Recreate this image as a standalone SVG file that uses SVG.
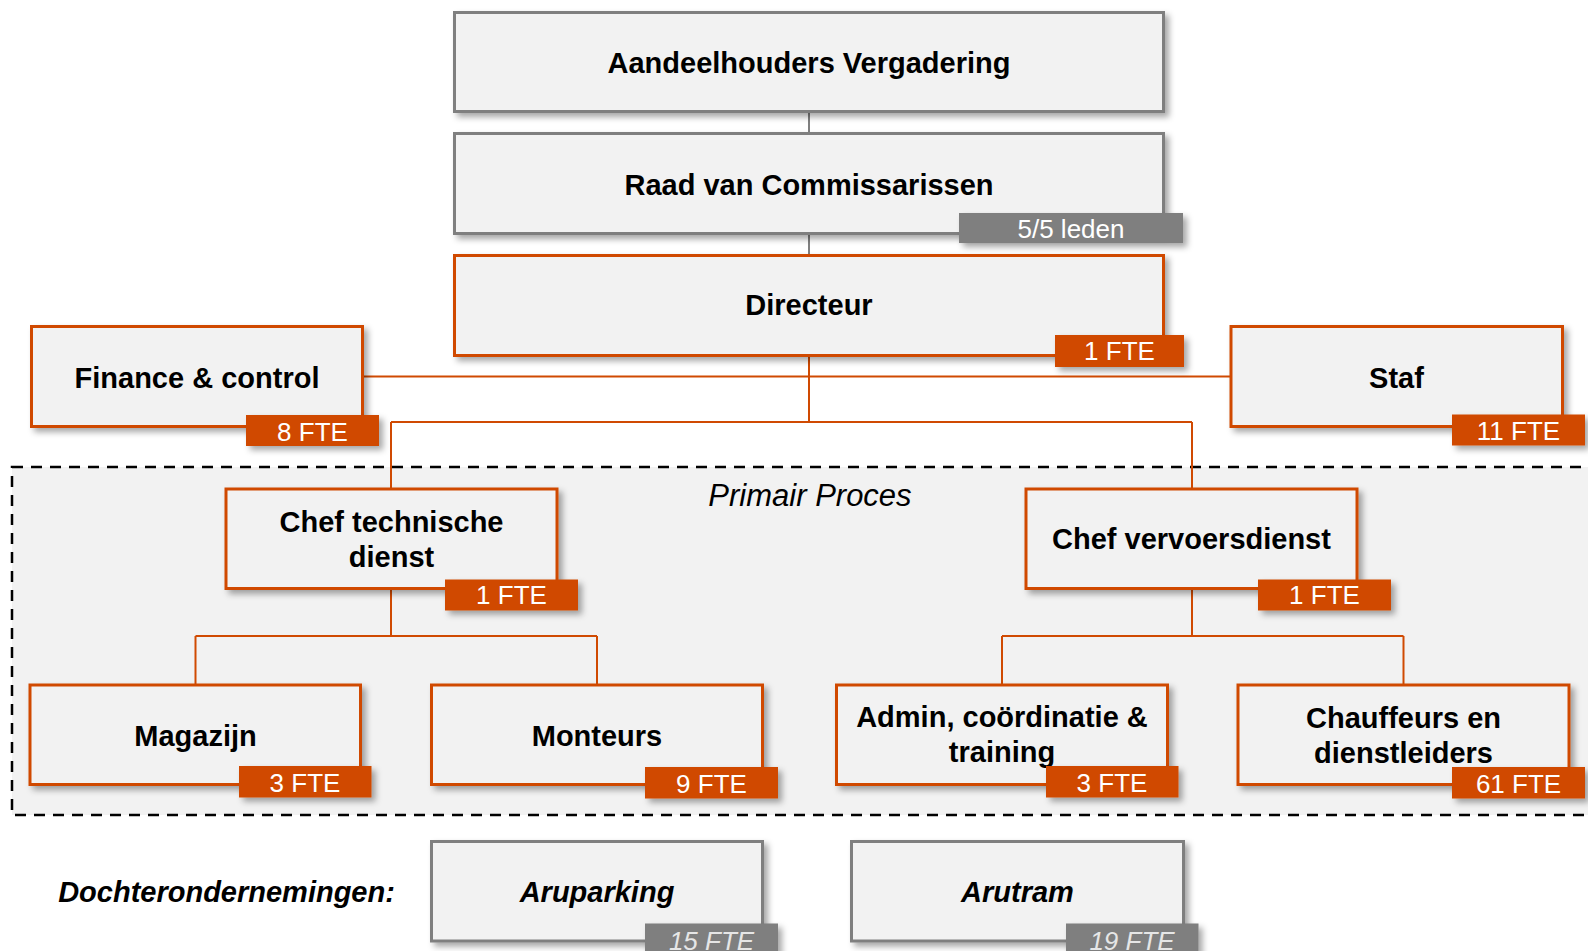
<svg xmlns="http://www.w3.org/2000/svg" width="1588" height="951" viewBox="0 0 1588 951">
<defs>
<filter id="sh" x="-10%" y="-20%" width="130%" height="160%">
<feDropShadow dx="4" dy="4" stdDeviation="3" flood-color="#000" flood-opacity="0.35"/>
</filter>
<style>
.box{fill:#f2f2f2;stroke-width:3;filter:url(#sh)}
.g{stroke:#7f7f7f}
.o{stroke:#d04a02}
.badge{filter:url(#sh)}
.bo{fill:#d04a02}
.bg{fill:#7f7f7f}
.t{font-family:"Liberation Sans",Arial,sans-serif;font-weight:bold;font-size:29px;fill:#000;text-anchor:middle}
.it{font-style:italic}
.b{font-family:"Liberation Sans",Arial,sans-serif;font-size:26px;fill:#fff;text-anchor:middle}
.bi{font-style:italic;fill:#e6e6e6}
.cg{stroke:#7f7f7f;stroke-width:2;fill:none}
.co{stroke:#d04a02;stroke-width:2;fill:none}
</style>
</defs>
<rect width="1588" height="951" fill="#fff"/>
<g id="primair-proces">
<rect x="12" y="467" width="1600" height="348" fill="#f2f2f2" stroke="#000" stroke-width="2.5" stroke-dasharray="11 8"/>
<text x="810" y="506" font-family="Liberation Sans, Arial, sans-serif" font-style="italic" font-size="31" text-anchor="middle" fill="#000">Primair Proces</text>
</g>
<g id="connectors">
<path class="cg" d="M809 113V132M809 235V254"/>
<path class="co" d="M809 357V422M364 376.5H1230M391 422H1192M391 422V488M1192 422V488"/>
<path class="co" d="M391 590V636M195.5 636H597M195.5 636V684M597 636V684"/>
<path class="co" d="M1192 590V636M1002 636H1403.5M1002 636V684M1403.5 636V684"/>
</g>
<g id="aandeelhouders">
<rect class="box g" x="454.5" y="12.5" width="709" height="99"/>
<text class="t" x="809" y="72.5">Aandeelhouders Vergadering</text>
</g>
<g id="raad">
<rect class="box g" x="454.5" y="133.5" width="709" height="100"/>
<text class="t" x="809" y="195">Raad van Commissarissen</text>
<rect class="badge bg" x="959" y="213" width="224" height="30"/>
<text class="b" x="1071" y="238">5/5 leden</text>
</g>
<g id="directeur">
<rect class="box o" x="454.5" y="255.5" width="709" height="100"/>
<text class="t" x="809" y="315">Directeur</text>
<rect class="badge bo" x="1055" y="335" width="129" height="32"/>
<text class="b" x="1119.5" y="360">1 FTE</text>
</g>
<g id="finance">
<rect class="box o" x="31.5" y="326.5" width="331" height="100"/>
<text class="t" x="197" y="388">Finance &amp; control</text>
<rect class="badge bo" x="246" y="415" width="133" height="31"/>
<text class="b" x="312.5" y="440.5">8 FTE</text>
</g>
<g id="staf">
<rect class="box o" x="1231" y="326.5" width="331.5" height="100"/>
<text class="t" x="1396.5" y="387.5">Staf</text>
<rect class="badge bo" x="1452" y="414.5" width="133" height="31"/>
<text class="b" x="1518.5" y="439.5">11 FTE</text>
</g>
<g id="chef-technische-dienst">
<rect class="box o" x="226" y="489" width="331" height="99.5"/>
<text class="t" x="391.5" y="531.5">Chef technische</text>
<text class="t" x="391.5" y="567">dienst</text>
<rect class="badge bo" x="445" y="579.5" width="133" height="31"/>
<text class="b" x="511.5" y="604">1 FTE</text>
</g>
<g id="chef-vervoersdienst">
<rect class="box o" x="1026" y="489" width="331" height="99.5"/>
<text class="t" x="1191.5" y="549">Chef vervoersdienst</text>
<rect class="badge bo" x="1258" y="579.5" width="133" height="31"/>
<text class="b" x="1324.5" y="604">1 FTE</text>
</g>
<g id="magazijn">
<rect class="box o" x="30" y="685" width="330.5" height="99.5"/>
<text class="t" x="195.5" y="745.5">Magazijn</text>
<rect class="badge bo" x="239" y="766" width="132.5" height="31.5"/>
<text class="b" x="305" y="791.5">3 FTE</text>
</g>
<g id="monteurs">
<rect class="box o" x="431.5" y="685" width="331" height="99.5"/>
<text class="t" x="597" y="745.5">Monteurs</text>
<rect class="badge bo" x="645" y="767" width="133" height="31.5"/>
<text class="b" x="711.5" y="792.5">9 FTE</text>
</g>
<g id="admin">
<rect class="box o" x="836.5" y="685" width="331" height="99.5"/>
<text class="t" x="1002" y="727">Admin, coördinatie &amp;</text>
<text class="t" x="1002" y="762">training</text>
<rect class="badge bo" x="1046" y="766" width="132.5" height="31.5"/>
<text class="b" x="1112" y="791.5">3 FTE</text>
</g>
<g id="chauffeurs">
<rect class="box o" x="1238" y="685" width="331" height="99.5"/>
<text class="t" x="1403.5" y="728">Chauffeurs en</text>
<text class="t" x="1403.5" y="763">dienstleiders</text>
<rect class="badge bo" x="1452" y="767" width="133" height="31.5"/>
<text class="b" x="1518.5" y="792.5">61 FTE</text>
</g>
<g id="dochterondernemingen-label">
<text class="t it" x="226.5" y="901.5">Dochterondernemingen:</text>
</g>
<g id="aruparking">
<rect class="box g" x="431.5" y="841.5" width="331" height="99.5"/>
<text class="t it" x="597" y="901.5">Aruparking</text>
<rect class="badge bg" x="645" y="923.5" width="133" height="32"/>
<text class="b bi" x="711.5" y="949.5">15 FTE</text>
</g>
<g id="arutram">
<rect class="box g" x="851.5" y="841.5" width="332" height="99.5"/>
<text class="t it" x="1017.5" y="901.5">Arutram</text>
<rect class="badge bg" x="1066" y="923.5" width="132.5" height="32"/>
<text class="b bi" x="1132" y="949.5">19 FTE</text>
</g>
</svg>
